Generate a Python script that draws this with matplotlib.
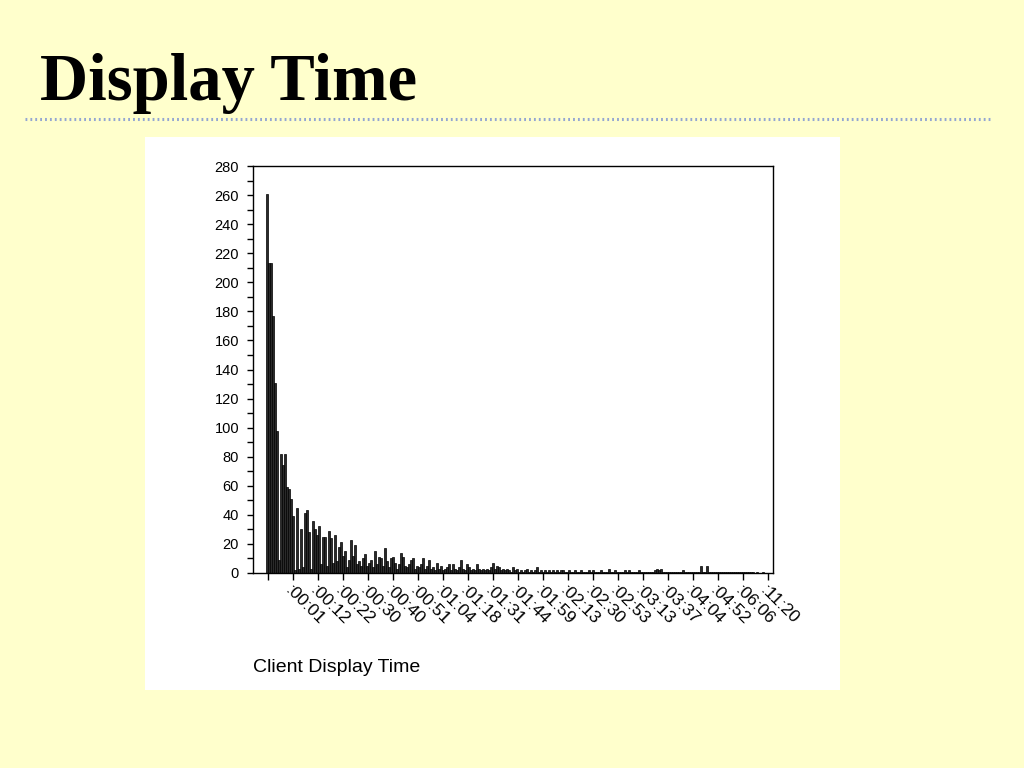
import numpy as np
import matplotlib
matplotlib.use('Agg')
import matplotlib.pyplot as plt
from matplotlib.patches import Rectangle
from matplotlib.lines import Line2D
from matplotlib.ticker import MultipleLocator

# ----------------------------------------------------------------------------
#  data (counts per display-time bin)
# ----------------------------------------------------------------------------
counts = [261, 213, 213, 177, 131, 98, 9, 82, 74, 82,
          59, 58, 51, 39, 2, 45, 3, 30, 4, 41,
          43, 28, 3, 36, 30, 26, 32, 6, 25, 25,
          5, 29, 24, 7, 26, 8, 18, 21, 12, 15,
          4, 9, 23, 12, 19, 6, 8, 5, 10, 13,
          5, 7, 9, 4, 15, 6, 11, 10, 5, 17,
          8, 4, 10, 11, 7, 3, 6, 14, 11, 5,
          4, 6, 9, 10, 3, 5, 4, 6, 10, 3,
          5, 9, 3, 4, 2, 7, 3, 5, 2, 3,
          4, 6, 2, 6, 3, 2, 4, 9, 3, 2,
          6, 4, 2, 3, 2, 6, 3, 2, 3, 2,
          3, 2, 4, 7, 3, 5, 4, 2, 3, 2,
          3, 2, 1, 4, 2, 3, 1, 2, 1, 2,
          3, 1, 2, 1, 2, 4, 1, 2, 1, 2,
          1, 2, 1, 2, 1, 2, 1, 2, 2, 1,
          1, 2, 1, 1, 2, 1, 1, 2, 1, 1,
          1, 2, 1, 2, 1, 1, 1, 2, 1, 1,
          1, 3, 1, 1, 2, 1, 1, 1, 1, 2,
          1, 2, 1, 1, 1, 1, 2, 1, 1, 1,
          1, 1, 1, 1, 2, 3, 2, 3, 1, 1,
          1, 1, 1, 1, 1, 1, 1, 1, 2, 1,
          1, 1, 1, 1, 1, 1, 1, 5, 1, 1,
          5, 1, 1, 1, 1, 1, 1, 1, 1, 1,
          1, 1, 1, 1, 1, 1, 1, 1, 1, 1,
          1, 1, 1, 1, 0, 1, 0, 0, 1, 0,
          0, 0]

tick_labels = ['', ':00:01', ':00:12', ':00:22', ':00:30', ':00:40', ':00:51',
               ':01:04', ':01:18', ':01:31', ':01:44', ':01:59', ':02:13',
               ':02:30', ':02:53', ':03:13', ':03:37', ':04:04', ':04:52',
               ':06:06', ':11:20']

title = 'Display Time'
xlabel = 'Client Display Time'

# ----------------------------------------------------------------------------
fig = plt.figure(figsize=(10.24, 7.68), dpi=100)
fig.patch.set_facecolor('#FFFFCC')

# white panel behind the chart
fig.patches.append(Rectangle((145/1024, 1-690/768), 695/1024, 553/768,
                             transform=fig.transFigure, facecolor='white',
                             edgecolor='none', zorder=-5))

# slide title and dotted rule
fig.text(40/1024, 1-100/768, title, fontsize=48, fontweight='bold',
         family='Liberation Serif', color='black', ha='left', va='baseline')
fig.lines.append(Line2D([25/1024, 990/1024], [1-119/768, 1-119/768],
                        transform=fig.transFigure, color='#93A6D2',
                        linewidth=2.2, linestyle=(0, (0.6, 1.0)), zorder=-4))

ax = fig.add_axes([253/1024, 1-573/768, 520/1024, 407/768])
ax.set_zorder(2)
ax.set_facecolor('white')

x = np.arange(len(counts))
ax.bar(x, counts, width=0.75, color='#2a2a2a', edgecolor='black',
       linewidth=0.5)

ax.set_xlim(-7, 253)
ax.set_ylim(0, 280)

tick_pos = [0.5 + 12.5*i for i in range(len(tick_labels))]
ax.set_xticks(tick_pos)
ax.set_xticklabels(tick_labels, rotation=-45, ha='left', va='top',
                   rotation_mode='anchor', fontsize=12.5,
                   family='Liberation Sans')

ax.yaxis.set_major_locator(MultipleLocator(20))
ax.yaxis.set_minor_locator(MultipleLocator(10))
for lab in ax.get_yticklabels():
    lab.set_family('Liberation Sans')
ax.tick_params(axis='y', which='both', direction='out', length=4,
               width=1, labelsize=10.5, pad=6)
ax.tick_params(axis='x', which='major', direction='out', length=5,
               width=1, pad=2)
for s in ax.spines.values():
    s.set_linewidth(1.0)
    s.set_color('black')

fig.text(253/1024, 1-672/768, xlabel, fontsize=14, family='Liberation Sans',
         ha='left', va='baseline')

fig.savefig('out.png', dpi=100, facecolor=fig.get_facecolor())
